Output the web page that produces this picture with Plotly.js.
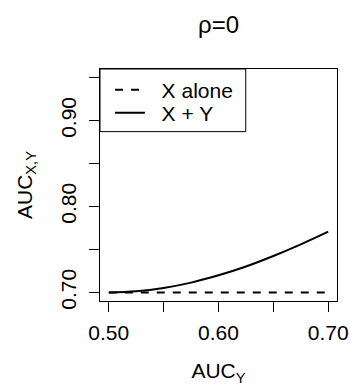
<!DOCTYPE html>
<html>
<head>
<meta charset="utf-8">
<script src="https://cdn.plot.ly/plotly-3.0.1.min.js"></script>
<style>html,body{margin:0;padding:0;background:#fff;}#chart{width:350px;height:390px;}</style>
</head>
<body>
<div id="chart"></div>
<script>
// Data
const aucY = [0.500, 0.525, 0.550, 0.575, 0.600, 0.625, 0.650, 0.675, 0.700];
const xAlone = [0.700, 0.700, 0.700, 0.700, 0.700, 0.700, 0.700, 0.700, 0.700];
const xPlusY = [0.7000, 0.7013, 0.7052, 0.7114, 0.7199, 0.7302, 0.7424, 0.7560, 0.7708];
const seriesNames = ["X alone", "X + Y"];
const xTickVals = [0.50, 0.60, 0.70];
const xTickText = ["0.50", "0.60", "0.70"];
const yTickVals = [0.70, 0.80, 0.90];
const yTickText = ["0.70", "0.80", "0.90"];
const minorStep = 0.05;

const FONT = "Liberation Sans, Arial, Helvetica, sans-serif";
const FS = 21;
const pad = "\u00a0\u00a0";

const traces = [
  {x: aucY, y: xAlone, name: pad + seriesNames[0], mode: "lines", type: "scatter", legend: "legend",
   line: {color: "black", width: 2, dash: "8px,8px"}},
  {x: aucY, y: xPlusY, name: pad + seriesNames[1], mode: "lines", type: "scatter", legend: "legend2",
   line: {color: "black", width: 2, shape: "spline"}}
];

const legendBase = {x: 0.042, xanchor: "left", yanchor: "middle", xref: "paper", yref: "paper",
  bgcolor: "rgba(0,0,0,0)", borderwidth: 0, font: {family: FONT, size: FS, color: "black"}};

const axisCommon = {
  ticks: "outside", ticklen: 10, tickwidth: 1, tickcolor: "black",
  showline: true, mirror: true, linecolor: "black", linewidth: 1,
  showgrid: false, zeroline: false, fixedrange: true,
  tickfont: {family: FONT, size: FS, color: "black"},
  minor: {ticks: "outside", ticklen: 10, tickwidth: 1, tickcolor: "black", dtick: minorStep, showgrid: false}
};

const layout = {
  width: 350, height: 390,
  margin: {l: 100, r: 13, t: 69, b: 89},
  paper_bgcolor: "white", plot_bgcolor: "white",
  font: {family: FONT, size: FS, color: "black"},
  title: {text: "ρ=0", font: {family: FONT, size: 24, color: "black"},
          x: 0.5, xref: "paper", xanchor: "center", y: 1 - 25/390, yref: "container", yanchor: "middle"},
  xaxis: Object.assign({}, axisCommon, {
          range: [0.492, 0.708], tickmode: "array", tickvals: xTickVals, ticktext: xTickText,
          minor: Object.assign({}, axisCommon.minor, {tick0: 0.5}),
          ticklabelstandoff: 3,
          title: {text: "AUC<sub>Y</sub>", font: {family: FONT, size: FS, color: "black"}, standoff: 20}}),
  yaxis: Object.assign({}, axisCommon, {
          range: [0.69, 0.96], tickmode: "array", tickvals: yTickVals, ticktext: yTickText, tickangle: -90,
          minor: Object.assign({}, axisCommon.minor, {tick0: 0.7}),
          ticklabelstandoff: 5,
          title: {text: "AUC<sub>X,Y</sub>", font: {family: FONT, size: FS, color: "black"}, standoff: 18}}),
  showlegend: true,
  legend: Object.assign({}, legendBase, {y: 1 - 21/232}),
  legend2: Object.assign({}, legendBase, {y: 1 - 44/232}),
  shapes: [{type: "rect", xref: "paper", yref: "paper", x0: 0, x1: 0.615, y0: 0.730, y1: 1,
            line: {color: "black", width: 1}, fillcolor: "white", layer: "below"}]
};

Plotly.newPlot("chart", traces, layout, {displayModeBar: false, staticPlot: true});
</script>
</body>
</html>
